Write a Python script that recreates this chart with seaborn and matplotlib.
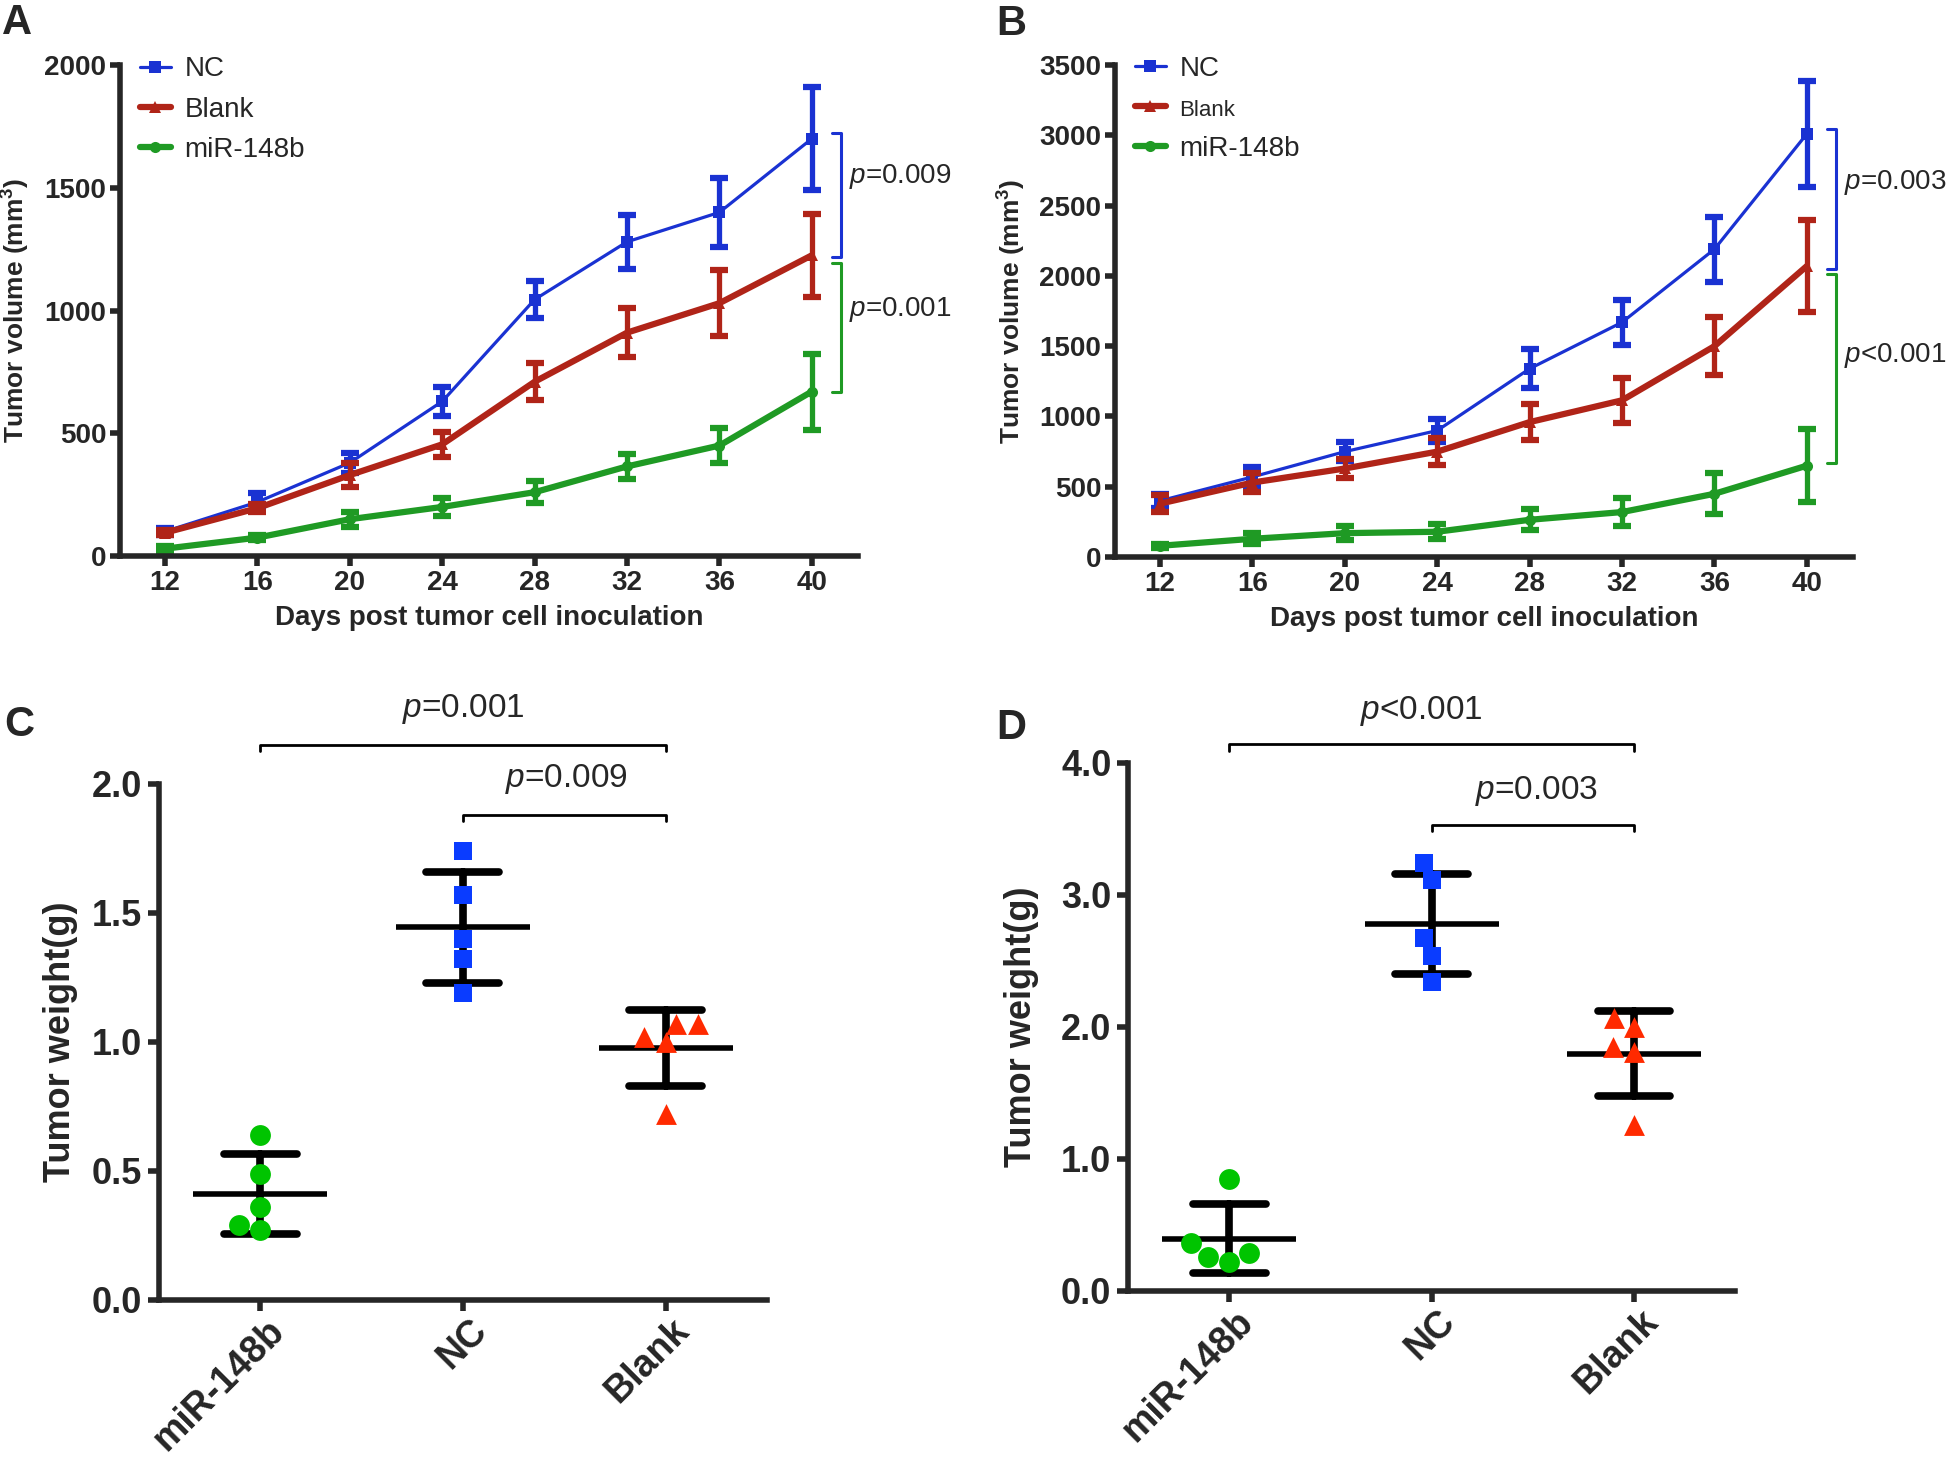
import numpy as np
import pandas as pd
import matplotlib
matplotlib.use("Agg")
from matplotlib import pyplot as plt
from matplotlib.transforms import ScaledTranslation
import seaborn as sns

# tumor growth curves (mean and error bar half-length, mm3)
days = [12, 16, 20, 24, 28, 32, 36, 40]

vol_a_nc = [100, 220, 380, 630, 1045, 1280, 1400, 1700]
err_a_nc = [15, 35, 40, 60, 75, 110, 140, 210]
vol_a_blank = [95, 195, 330, 455, 710, 910, 1030, 1225]
err_a_blank = [10, 15, 50, 50, 75, 100, 135, 170]
vol_a_mir = [30, 75, 150, 200, 260, 365, 450, 670]
err_a_mir = [10, 10, 30, 35, 45, 50, 70, 155]

vol_b_nc = [400, 570, 750, 900, 1340, 1670, 2190, 3010]
err_b_nc = [50, 70, 70, 85, 140, 160, 230, 380]
vol_b_blank = [380, 530, 630, 750, 960, 1115, 1500, 2070]
err_b_blank = [60, 70, 70, 95, 130, 160, 205, 330]
vol_b_mir = [80, 130, 170, 180, 265, 320, 450, 650]
err_b_mir = [15, 40, 50, 55, 75, 100, 145, 260]

# tumor weights (g), one value per mouse
groups = ["miR-148b", "NC", "Blank"]
w_c_mir = [0.64, 0.49, 0.36, 0.27, 0.29]
w_c_nc = [1.74, 1.57, 1.40, 1.32, 1.19]
w_c_blank = [1.07, 1.02, 1.00, 1.07, 0.72]
w_d_mir = [0.85, 0.36, 0.29, 0.26, 0.22]
w_d_nc = [3.24, 3.11, 2.67, 2.54, 2.34]
w_d_blank = [2.07, 2.00, 1.85, 1.81, 1.26]

sns.set_theme(style="ticks")
plt.rcParams["font.family"] = ["Liberation Sans", "DejaVu Sans"]
plt.rcParams["mathtext.fontset"] = "custom"
plt.rcParams["mathtext.rm"] = "Liberation Sans"
plt.rcParams["mathtext.it"] = "Liberation Sans:italic"
plt.rcParams["mathtext.bf"] = "Liberation Sans:bold"
plt.rcParams["axes.linewidth"] = 4

blue = "#1a32d2"
red = "#b02418"
green = "#1f9a24"
blue_pt = "#0a3cff"
red_pt = "#ff2a00"
green_pt = "#00c400"

fig = plt.figure(figsize=(19.46, 14.59), dpi=100)
ax_a = fig.add_axes([0.0617, 0.6189, 0.3792, 0.3365])
ax_b = fig.add_axes([0.5730, 0.6182, 0.3792, 0.3372])
ax_c = fig.add_axes([0.0817, 0.1090, 0.3124, 0.3537])
ax_d = fig.add_axes([0.5797, 0.1152, 0.3120, 0.3619])


def growth_panel(ax, series, ymax, brackets, ylab_x):
    for name, vals, errs, color, lw, mk in series:
        sns.lineplot(x=days, y=vals, ax=ax, color=color, lw=lw, marker=mk,
                     markersize=8, markeredgewidth=0, label=name)
        ax.errorbar(days, vals, yerr=errs, fmt="none", ecolor=color,
                    elinewidth=3.8, capsize=6.5, capthick=4.5)
    ax.set_xlim(10.05, 42.0)
    ax.set_ylim(0, ymax)
    ax.set_xticks(days)
    ax.set_yticks(np.arange(0, ymax + 1, 500))
    ax.tick_params(width=4, length=7, labelsize=20, pad=3)
    plt.setp(ax.get_xticklabels() + ax.get_yticklabels(), fontweight="bold")
    sns.despine(ax=ax)
    ax.set_xlabel("Days post tumor cell inoculation", fontsize=20, fontweight="bold")
    ax.set_ylabel(r"Tumor volume (mm$^\mathbf{3}$)", fontsize=19, fontweight="bold")
    ax.xaxis.set_label_coords(0.5, -0.1)
    ax.yaxis.set_label_coords(ylab_x, 0.5)
    for lo, hi, color, text, ty in brackets:
        ax.plot([40.87, 41.26, 41.26, 40.87], [hi, hi, lo, lo], color=color,
                lw=2.2, clip_on=False)
        ax.text(41.62, ty, text, fontsize=20, va="center", ha="left")
    leg = ax.legend(loc="upper left", bbox_to_anchor=(0.027, 1.018), frameon=False,
                    fontsize=20, handlelength=1.1, handletextpad=0.5,
                    labelspacing=0.52, borderpad=0, borderaxespad=0)
    return leg


growth_panel(ax_a,
             [("NC", vol_a_nc, err_a_nc, blue, 2.3, "s"),
              ("Blank", vol_a_blank, err_a_blank, red, 4.5, "^"),
              ("miR-148b", vol_a_mir, err_a_mir, green, 4.5, "o")],
             2000,
             [(1220, 1724, blue, r"$p$=0.009", 1545),
              (670, 1195, green, r"$p$=0.001", 1004)],
             -0.119)

leg_b = growth_panel(ax_b,
                     [("NC", vol_b_nc, err_b_nc, blue, 2.3, "s"),
                      ("Blank", vol_b_blank, err_b_blank, red, 4.5, "^"),
                      ("miR-148b", vol_b_mir, err_b_mir, green, 4.5, "o")],
                     3500,
                     [(2047, 3047, blue, r"$p$=0.003", 2664),
                      (670, 2017, green, r"$p$<0.001", 1436)],
                     -0.118)
leg_b.get_texts()[1].set_fontsize(16)


def weight_panel(ax, mir, nc, blank, ymax, ystep, brackets, ylab_x):
    df = pd.DataFrame({"group": ["miR-148b"] * len(mir) + ["NC"] * len(nc) + ["Blank"] * len(blank),
                       "weight": mir + nc + blank})
    for g, color, mk, sz in [("miR-148b", green_pt, "o", 15),
                             ("NC", blue_pt, "s", 13.5),
                             ("Blank", red_pt, "^", 15)]:
        sns.swarmplot(data=df[df["group"] == g], x="group", y="weight", order=groups,
                      color=color, marker=mk, size=sz, linewidth=0, ax=ax)
    sns.pointplot(data=df, x="group", y="weight", order=groups, errorbar="sd",
                  capsize=0.36, color="black", linestyle="none", marker="_",
                  markersize=96, markeredgewidth=4, err_kws={"linewidth": 5.5},
                  ax=ax)
    ax.set_xlim(-0.5, 2.5)
    ax.set_ylim(0, ymax)
    ticks = np.arange(0, ymax + 0.01, ystep)
    ax.set_yticks(ticks)
    ax.set_yticklabels([f"{v:.1f}" for v in ticks])
    ax.tick_params(width=4, length=8, labelsize=26, pad=4)
    ax.tick_params(axis="x", labelsize=27, pad=1)
    plt.setp(ax.get_yticklabels(), fontweight="bold")
    shift = ScaledTranslation(4 / 72, 0, fig.dpi_scale_trans)
    for lab in ax.get_xticklabels():
        lab.set_fontweight("bold")
        lab.set_rotation(45)
        lab.set_ha("right")
        lab.set_rotation_mode("anchor")
        lab.set_transform(lab.get_transform() + shift)
    sns.despine(ax=ax)
    ax.set_xlabel("")
    ax.set_ylabel("Tumor weight(g)", fontsize=26, fontweight="bold")
    ax.yaxis.set_label_coords(ylab_x, 0.5)
    for x0, x1, yb, text, tx, ty in brackets:
        tick = ymax * 0.012
        ax.plot([x0, x0, x1, x1], [yb - tick, yb, yb, yb - tick], color="black",
                lw=2, clip_on=False)
        ax.text(tx, ty, text, fontsize=24, ha="center", va="center")


weight_panel(ax_c, w_c_mir, w_c_nc, w_c_blank, 2.0, 0.5,
             [(0, 2, 2.15, r"$p$=0.001", 1.0, 2.29),
              (1, 2, 1.88, r"$p$=0.009", 1.51, 2.02)],
             -0.133)
weight_panel(ax_d, w_d_mir, w_d_nc, w_d_blank, 4.0, 1.0,
             [(0, 2, 4.14, r"$p$<0.001", 0.95, 4.39),
              (1, 2, 3.53, r"$p$=0.003", 1.52, 3.79)],
             -0.146)

for letter, x, y in [("A", 0.001, 0.998), ("B", 0.512, 0.997),
                     ("C", 0.002, 0.517), ("D", 0.512, 0.515)]:
    fig.text(x, y, letter, fontsize=30, fontweight="bold", ha="left", va="top")

fig.savefig("out.png", dpi=100)
